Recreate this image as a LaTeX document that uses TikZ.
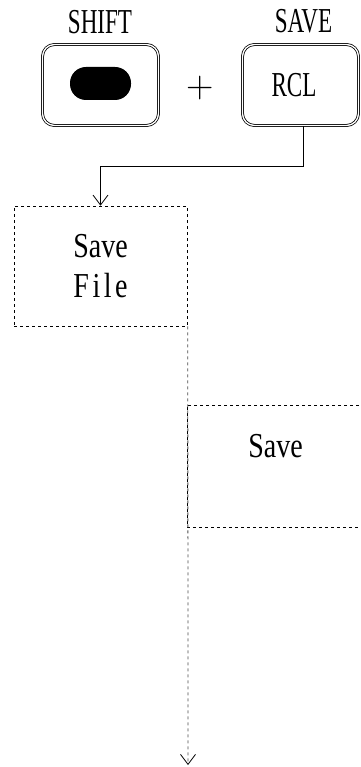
\documentclass[tikz,border=0pt]{standalone}
\usepackage{fontspec}
\usetikzlibrary{arrows.meta}
\newfontfamily\keyfont[FakeStretch=0.66]{Liberation Serif}
\newfontfamily\boxfont[FakeStretch=0.8]{Liberation Serif}
\newfontfamily\spacedfont[FakeStretch=0.8,LetterSpace=10]{Liberation Serif}

\begin{document}
\begin{tikzpicture}[x=1pt, y=-1pt,
		key/.style={draw, double, line width=0.8pt, double distance=1.3pt, rounded corners=12pt, minimum width=116pt, minimum height=81pt, inner sep=0pt},
		keylbl/.style={font=\keyfont\fontsize{35}{35}\selectfont},
		menubox/.style={draw, dash pattern=on 3pt off 3pt, line width=0.6pt, inner sep=0pt},
		flow/.style={line width=0.6pt, -{Straight Barb[length=10pt, width=15pt, line width=0.8pt, color=black]}}]
	\useasboundingbox (0,0) rectangle (360,767);
	% keys
	\node[keylbl] (shiftlbl) at (100,22.5) {SHIFT};
	\node[key] (shiftkey) at (100.5,85) {};
	\node[fill=black, rounded corners=16pt, minimum width=61pt, minimum height=33pt, inner sep=0pt] (pill) at (100.5,83.5) {};
	\node[font=\fontsize{38}{38}\selectfont, inner sep=0pt] (plus) at (200,88) {+};
	\node[keylbl] (savelbl) at (303.5,21.5) {SAVE};
	\node[key] (savekey) at (300.5,85) {};
	\node[keylbl] (rcl) at (294,85) {RCL};
	% menu boxes
	\node[menubox, minimum width=173pt, minimum height=120pt, align=center, font=\boxfont\fontsize{35}{40}\selectfont] (savefile) at (100.5,266) {Save\\{\spacedfont File}};
	\node[menubox, minimum width=190pt, minimum height=122pt] (savebox) at (282,466) {};
	\node[font=\boxfont\fontsize{35}{35}\selectfont] (savetxt) at (275.5,446.5) {Save};
	\coordinate (bend) at (303,166);
	\coordinate (flowend) at (188,765);
	% connectors
	\draw[flow] ([xshift=2.5pt]savekey.south) -- (bend) -| (savefile.north);
	\draw[flow, line width=0.8pt, black!70, dash pattern=on 3pt off 3pt] ([xshift=0.5pt]savefile.south east) -- (flowend);
\end{tikzpicture}
\end{document}
